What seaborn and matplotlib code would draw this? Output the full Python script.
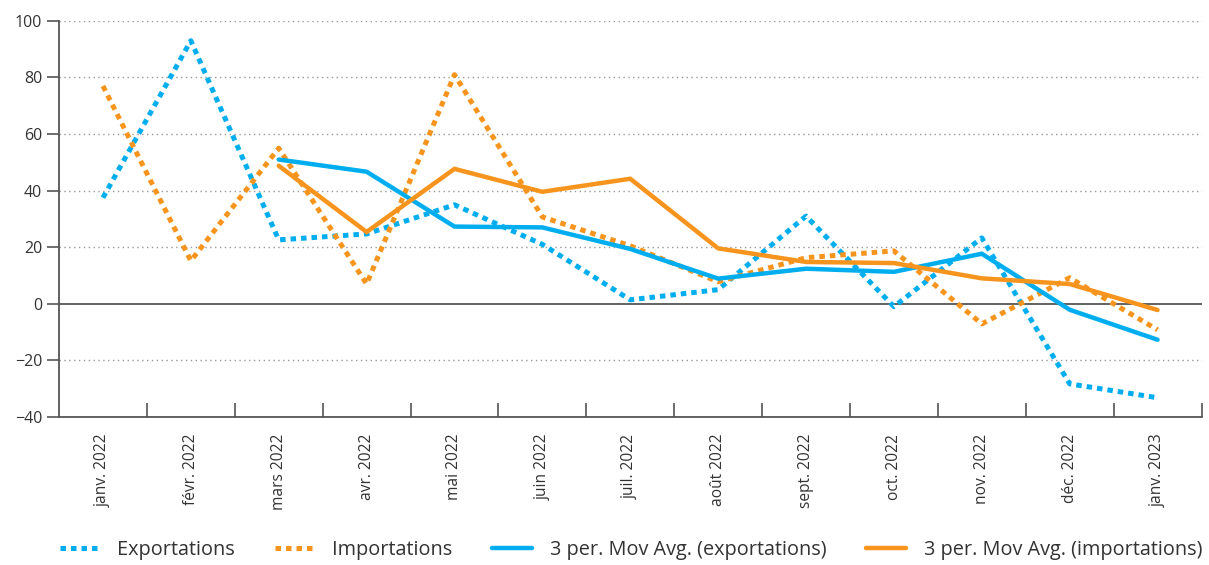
import pandas as pd
import matplotlib.pyplot as plt
import matplotlib.ticker as mticker
import seaborn as sns

months = ['janv. 2022', 'févr. 2022', 'mars 2022', 'avr. 2022', 'mai 2022', 'juin 2022',
          'juil. 2022', 'août 2022', 'sept. 2022', 'oct. 2022', 'nov. 2022', 'déc. 2022',
          'janv. 2023']
exports = [37.5, 93, 22.6, 24.7, 35, 21, 1.4, 5, 31, -1, 23.3, -28.3, -33.2]
imports = [77, 15.2, 55, 7, 81, 30.7, 20.5, 7.8, 16.3, 18.7, -7.1, 9.2, -9.2]
ma_exports = [None, None, 51, 46.7, 27.3, 27, 19.4, 8.9, 12.4, 11.3, 17.7, -2.1, -12.7]
ma_imports = [None, None, 48.8, 25.4, 47.7, 39.6, 44.2, 19.6, 14.8, 14.4, 9, 7, -2.2]

blue = '#00aeef'
orange = '#f7941d'
grey = '#555555'

df = pd.DataFrame({'pos': range(len(months)), 'exp': exports, 'imp': imports,
                   'ma_exp': ma_exports, 'ma_imp': ma_imports})
df = df.astype(float)

sns.set_style('white')
plt.rcParams['font.family'] = ['Open Sans', 'DejaVu Sans']

fig = plt.figure(figsize=(12.09, 5.65), dpi=100)
ax = fig.add_axes([0.0488, 0.262, 0.945, 0.701])

dot = (0, (1.1, 1.0))
sns.lineplot(data=df, x='pos', y='exp', ax=ax, color=blue, lw=3.6, linestyle=dot,
             label='Exportations', sort=False)
sns.lineplot(data=df, x='pos', y='imp', ax=ax, color=orange, lw=3.6, linestyle=dot,
             label='Importations', sort=False)
sns.lineplot(data=df.dropna(subset=['ma_exp']), x='pos', y='ma_exp', ax=ax, color=blue, lw=3.2,
             label='3 per. Mov Avg. (exportations)', sort=False)
sns.lineplot(data=df.dropna(subset=['ma_imp']), x='pos', y='ma_imp', ax=ax, color=orange, lw=3.2,
             label='3 per. Mov Avg. (importations)', sort=False)
for ln in ax.lines:
    ln.set_dash_capstyle('butt')
    ln.set_solid_joinstyle('miter')

ax.set_xlim(-0.5, len(months) - 0.5)
ax.set_ylim(-40, 100)
ax.set_yticks(range(-40, 101, 20))
for v in range(-20, 101, 20):
    if v == 0:
        ax.axhline(0, color=grey, lw=1.3, zorder=1)
    else:
        ax.axhline(v, color='#999999', lw=1.0, linestyle=(0, (1, 2.5)), zorder=0)

ax.set_xticks(range(len(months)))
ax.set_xticklabels(months, rotation=90, fontsize=11.2, color='#333333')
ax.xaxis.set_minor_locator(mticker.FixedLocator([i + 0.5 for i in range(len(months))]))
ax.tick_params(axis='x', which='major', bottom=False, length=0, pad=12)
ax.tick_params(axis='x', which='minor', bottom=True, direction='in', length=10, width=1.2,
               color=grey)
ax.tick_params(axis='y', left=True, direction='out', length=9, width=1.2, color=grey,
               labelsize=11.5, labelcolor='#333333', pad=3)
ax.set_xlabel('')
ax.set_ylabel('')

for side in ['top', 'right']:
    ax.spines[side].set_visible(False)
for side in ['left', 'bottom']:
    ax.spines[side].set_color(grey)
    ax.spines[side].set_linewidth(1.3)

handles, labels = ax.get_legend_handles_labels()
ax.legend_.remove()
fig.legend(handles, labels, loc='center', bbox_to_anchor=(0.522, 0.027), ncol=4,
           frameon=False, fontsize=14.3, handlelength=2.0, handletextpad=0.9,
           columnspacing=2.0, labelcolor='#333333')

fig.savefig('out.png', dpi=100)
